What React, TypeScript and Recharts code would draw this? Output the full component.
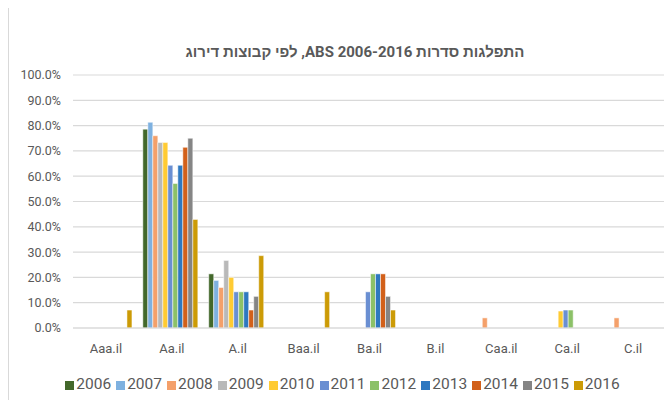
import { BarChart, Bar, XAxis, YAxis, CartesianGrid, Legend } from 'recharts'

const ratings = ['Aaa.il', 'Aa.il', 'A.il', 'Baa.il', 'Ba.il', 'B.il', 'Caa.il', 'Ca.il', 'C.il']
const years = ['2006', '2007', '2008', '2009', '2010', '2011', '2012', '2013', '2014', '2015', '2016']

// share of series per rating group, %
const s2006 = [0, 78.6, 21.4, 0, 0, 0, 0, 0, 0]
const s2007 = [0, 81.3, 18.8, 0, 0, 0, 0, 0, 0]
const s2008 = [0, 76.0, 16.0, 0, 0, 0, 4.0, 0, 4.0]
const s2009 = [0, 73.3, 26.7, 0, 0, 0, 0, 0, 0]
const s2010 = [0, 73.3, 20.0, 0, 0, 0, 0, 6.7, 0]
const s2011 = [0, 64.3, 14.3, 0, 14.3, 0, 0, 7.1, 0]
const s2012 = [0, 57.1, 14.3, 0, 21.4, 0, 0, 7.1, 0]
const s2013 = [0, 64.3, 14.3, 0, 21.4, 0, 0, 0, 0]
const s2014 = [0, 71.4, 7.1, 0, 21.4, 0, 0, 0, 0]
const s2015 = [0, 75.0, 12.5, 0, 12.5, 0, 0, 0, 0]
const s2016 = [7.1, 42.9, 28.6, 14.3, 7.1, 0, 0, 0, 0]

const yTicks = [0, 10, 20, 30, 40, 50, 60, 70, 80, 90, 100]

const colors = ['#43682B', '#7EB1E0', '#F4A06A', '#B9B9B9', '#FFCB33', '#6A8FD2', '#8CC168', '#2E78C0', '#D2601A', '#858585', '#CC9B06']

const seriesValues = [s2006, s2007, s2008, s2009, s2010, s2011, s2012, s2013, s2014, s2015, s2016]

const data = ratings.map((rating, i) => {
  const row: Record<string, string | number> = { rating }
  years.forEach((y, j) => { row[y] = seriesValues[j][i] })
  return row
})

const font = "Roboto, 'Liberation Sans', sans-serif"
const textColor = '#595959'

const LegendContent = ({ payload }: any) => (
  <div style={{ display: 'flex', justifyContent: 'center', paddingLeft: 16, fontFamily: font, fontSize: 15.5, color: textColor, lineHeight: '20px', height: 20 }}>
    {(payload ?? []).map((p: any) => (
      <div key={p.value} style={{ display: 'flex', alignItems: 'center', marginRight: 5 }}>
        <span style={{ display: 'inline-block', width: 9, height: 9, background: p.color, marginRight: 2, marginTop: 3 }} />
        {p.value}
      </div>
    ))}
  </div>
)

export default function App() {
  return (
    <div style={{ position: 'relative', width: 664, height: 392, overflow: 'hidden', background: '#fff' }}>
      <div style={{ position: 'absolute', left: 0, top: 0, width: 1, height: 392, background: '#d9d9d9' }} />
      <div
        dir="rtl"
        style={{ position: 'absolute', left: 0, top: 35, width: 694, textAlign: 'center', fontFamily: font, fontWeight: 'bold', fontSize: 15, color: textColor }}
      >
        התפלגות סדרות ABS 2006-2016, לפי קבוצות דירוג
      </div>
      <BarChart width={664} height={392} data={data} margin={{ top: 67, right: 6, left: 0, bottom: 6 }} barCategoryGap="6%" barGap={0}>
        <CartesianGrid stroke="#d9d9d9" strokeWidth={1.2} vertical={false} />
        <XAxis
          dataKey="rating"
          height={46}
          tickSize={0}
          tickMargin={16}
          axisLine={{ stroke: '#d9d9d9', strokeWidth: 1.2 }}
          tickLine={false}
          tick={{ fontFamily: font, fontSize: 13, fill: textColor }}
          interval={0}
        />
        <YAxis
          width={65}
          domain={[0, 100]}
          ticks={yTicks}
          tickFormatter={(v: number) => v.toFixed(1) + '%'}
          tickSize={0}
          tickMargin={12}
          axisLine={false}
          tickLine={false}
          tick={{ fontFamily: font, fontSize: 12.5, fill: textColor }}
        />
        <Legend verticalAlign="bottom" wrapperStyle={{ height: 20 }} content={<LegendContent />} />
        {years.map((y, j) => (
          <Bar key={y} dataKey={y} name={y} fill={colors[j]} stroke="#ffffff" strokeWidth={0.5} isAnimationActive={false} />
        ))}
      </BarChart>
    </div>
  )
}
